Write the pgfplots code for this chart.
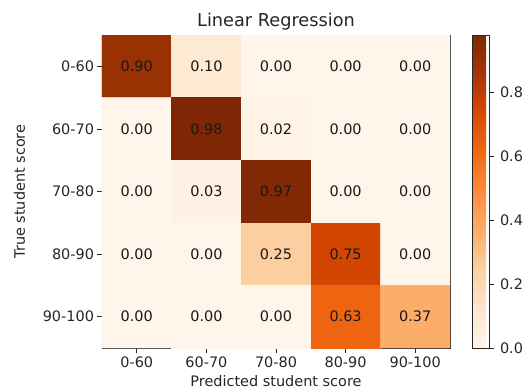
\documentclass[border=0pt]{standalone}
\usepackage{pgfplots}
\pgfplotsset{compat=1.18}
\usepackage{fontspec}
\setmainfont{DejaVu Sans}
\pgfplotstableread{
x y C
0 0 0.90
1 0 0.10
2 0 0.00
3 0 0.00
4 0 0.00
0 1 0.00
1 1 0.98
2 1 0.02
3 1 0.00
4 1 0.00
0 2 0.00
1 2 0.03
2 2 0.97
3 2 0.00
4 2 0.00
0 3 0.00
1 3 0.00
2 3 0.25
3 3 0.75
4 3 0.00
0 4 0.00
1 4 0.00
2 4 0.00
3 4 0.63
4 4 0.37
}\cm
\begin{document}
\begin{tikzpicture}[x=1bp,y=1bp]
\begin{axis}[
  at={(0,0)}, anchor=south west,
  scale only axis, width=348bp, height=313bp,
  xmin=-0.5, xmax=4.5, ymin=-0.5, ymax=4.5,
  y dir=reverse, enlargelimits=false,
  axis line style={black!85, line width=0.8pt},
  xtick={0,...,4}, ytick={0,...,4},
  xticklabels={0-60,60-70,70-80,80-90,90-100},
  yticklabels={0-60,60-70,70-80,80-90,90-100},
  xtick pos=bottom, ytick pos=left,
  tick align=outside, major tick length=4.5bp,
  tick style={black!85, line width=0.8pt},
  ticklabel style={font=\fontsize{14.5}{16}\selectfont, text=black!85},
  xticklabel style={yshift=-1bp},
  xlabel={Predicted student score}, ylabel={True student score},
  label style={font=\fontsize{14.5}{16}\selectfont, text=black!85},
  xlabel style={yshift=-1bp},
  ylabel style={yshift=11bp},
  title={Linear Regression},
  title style={font=\fontsize{17.8}{19}\selectfont, text=black!85, yshift=-5bp},
  colormap={oranges}{rgb255=(255,245,235) rgb255=(254,230,206) rgb255=(253,208,162) rgb255=(253,174,107) rgb255=(253,141,60) rgb255=(241,105,19) rgb255=(217,72,1) rgb255=(166,54,3) rgb255=(127,39,4)},
  point meta min=0, point meta max=0.98,
  colorbar right,
  colorbar shift/.style={xshift=22bp},
  colorbar style={
    at={(parent axis.north east)}, anchor=north west,
    width=17bp, height=313bp, scale only axis,
    ytick={0,0.2,0.4,0.6,0.8}, ytick pos=right,
    yticklabel style={/pgf/number format/.cd, fixed, precision=1, zerofill, assume math mode=true},
    ticklabel style={font=\fontsize{14.5}{16}\selectfont, text=black!85, xshift=3bp},
    axis line style={black!85, line width=0.8pt},
    tick align=outside, major tick length=4.5bp,
    tick style={black!85, line width=0.8pt},
  },
  nodes near coords={\pgfmathprintnumber[fixed,precision=2,zerofill,assume math mode=true]{\pgfplotspointmeta}},
  nodes near coords style={anchor=center, font=\fontsize{14.5}{16}\selectfont, text=black!90},
]
\addplot[matrix plot*, mesh/cols=5, point meta=explicit] table[x=x, y=y, meta=C] {\cm};
\end{axis}
\pgfresetboundingbox
\path[use as bounding box] (-102bp,-43bp) rectangle (421bp,348bp);
\end{tikzpicture}
\end{document}
